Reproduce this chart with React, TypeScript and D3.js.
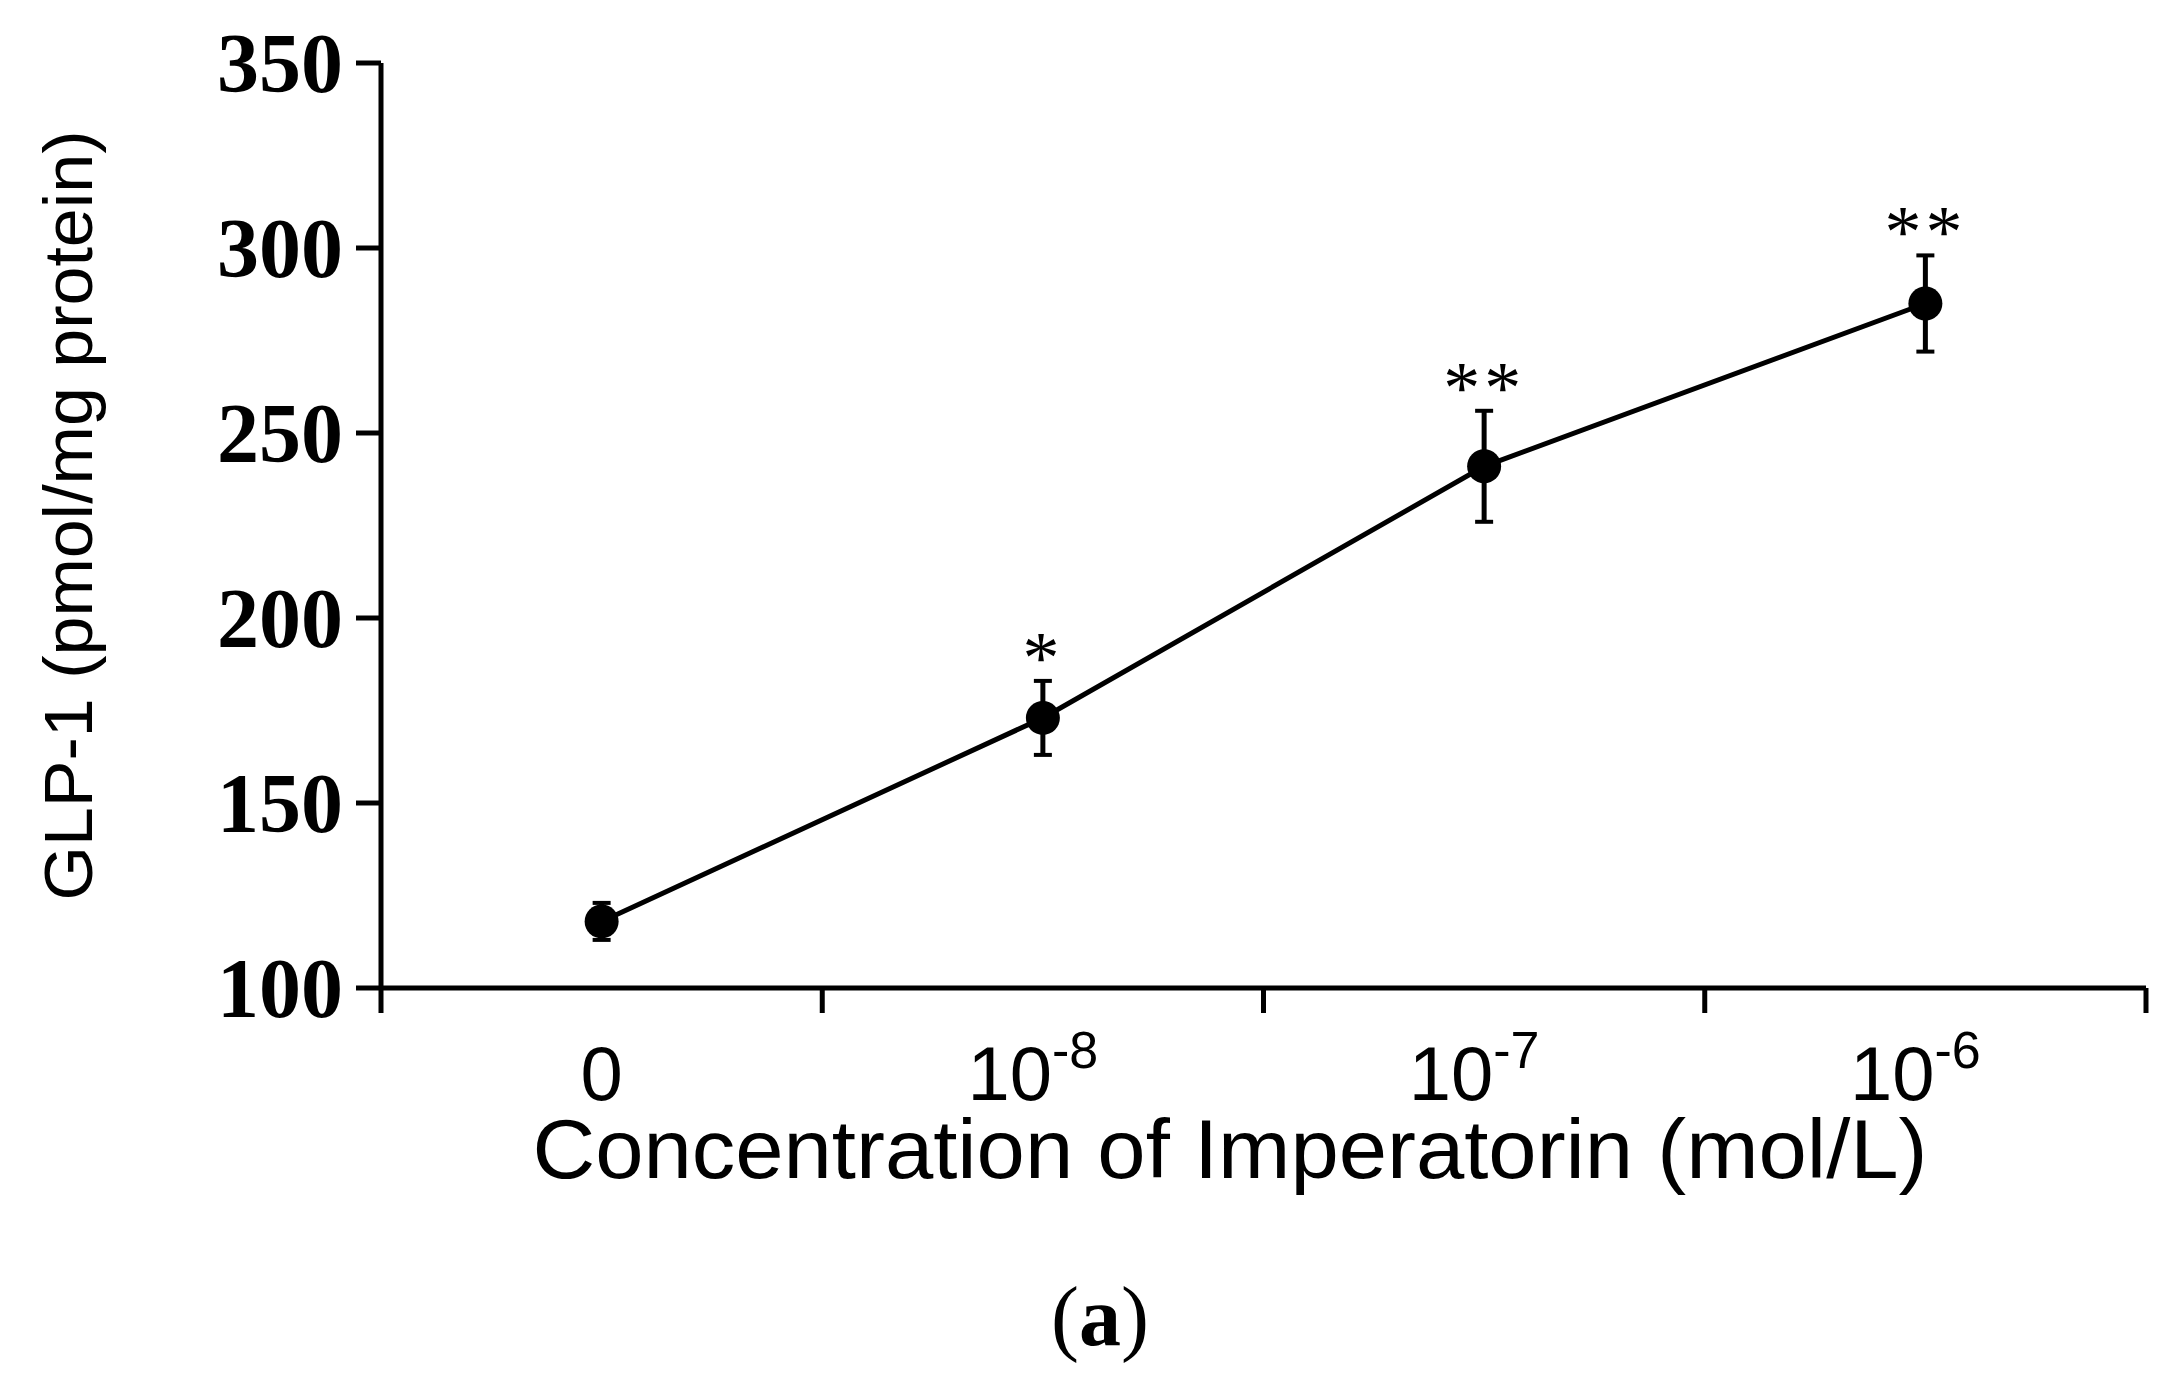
import React from "react";
import * as d3 from "d3";

const categories = ["0", "10-8", "10-7", "10-6"];
const exponents = ["", "-8", "-7", "-6"];
const means = [118, 173, 241, 285];
const errors = [5, 10, 15, 13];
const stars = ["", "*", "**", "**"];
const yTicks = [100, 150, 200, 250, 300, 350];

export default function App() {
  const W = 2177, H = 1381;
  const left = 381, right = 2146, top = 63, bottom = 988;
  const x = d3.scaleBand().domain(categories).range([left, right]);
  const bw = x.bandwidth();
  const cx = (i: number) => (x(categories[i]) as number) + bw / 2;
  const y = d3.scaleLinear().domain([100, 350]).range([bottom, top]);
  const line = d3.line<number>().x((_, i) => cx(i)).y((d) => y(d));
  const boundaries = [1, 2, 3, 4].map((i) => left + bw * i);
  return (
    <div style={{ position: "fixed", left: 0, top: 0 }}>
      <svg width={W} height={H} style={{ display: "block", background: "#fff" }}>
        <line x1={left} x2={left} y1={top} y2={bottom + 25} stroke="#000" strokeWidth={5} />
        <line x1={left} x2={right} y1={bottom} y2={bottom} stroke="#000" strokeWidth={5} />
        {yTicks.map((t) => (
          <g key={t}>
            <line x1={left - 25} x2={left} y1={y(t)} y2={y(t)} stroke="#000" strokeWidth={5} />
            <text x={left - 38} y={y(t)} dy="0.35em" textAnchor="end" fontFamily="Liberation Serif" fontWeight="bold" fontSize={84}>{t}</text>
          </g>
        ))}
        {boundaries.map((b, i) => (
          <line key={i} x1={b} x2={b} y1={bottom} y2={bottom + 25} stroke="#000" strokeWidth={5} />
        ))}
        {categories.map((c, i) => (
          <text key={c} x={cx(i) + (i ? -10 : 0)} y={1100} textAnchor="middle" fontFamily="Liberation Sans" fontSize={76}>
            {i === 0 ? "0" : "10"}
            {exponents[i] && <tspan dy={-32} fontSize={52}>{exponents[i]}</tspan>}
          </text>
        ))}
        <path d={line(means) || ""} fill="none" stroke="#000" strokeWidth={5} />
        {means.map((m, i) => (
          <g key={i}>
            <line x1={cx(i)} x2={cx(i)} y1={y(m - errors[i])} y2={y(m + errors[i])} stroke="#000" strokeWidth={5} />
            <line x1={cx(i) - 9} x2={cx(i) + 9} y1={y(m + errors[i])} y2={y(m + errors[i])} stroke="#000" strokeWidth={4} />
            <line x1={cx(i) - 9} x2={cx(i) + 9} y1={y(m - errors[i])} y2={y(m - errors[i])} stroke="#000" strokeWidth={4} />
            <circle cx={cx(i)} cy={y(m)} r={17} fill="#000" />
            {stars[i] && (
              <text x={cx(i)} y={y(m + errors[i]) + 2} textAnchor="middle" fontFamily="Liberation Serif" fontSize={74} letterSpacing={4}>{stars[i]}</text>
            )}
          </g>
        ))}
        <text x={1230} y={1178} textAnchor="middle" fontFamily="Liberation Sans" fontSize={84} textLength={1395} lengthAdjust="spacingAndGlyphs">Concentration of Imperatorin (mol/L)</text>
        <text transform={`translate(92,${(top + bottom) / 2 - 10}) rotate(-90)`} textAnchor="middle" fontFamily="Liberation Sans" fontSize={68} textLength={770} lengthAdjust="spacingAndGlyphs">GLP-1 (pmol/mg protein)</text>
        <text x={1100} y={1345} textAnchor="middle" fontFamily="Liberation Serif" fontSize={84}>(<tspan fontWeight="bold">a</tspan>)</text>
      </svg>
    </div>
  );
}
